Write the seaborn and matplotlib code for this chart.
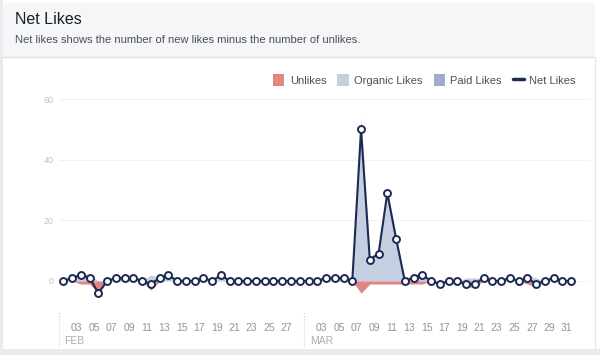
# Net Likes chart (Feb-Mar daily)
import numpy as np
import pandas as pd
import matplotlib
matplotlib.use('Agg')
import matplotlib.pyplot as plt
import seaborn as sns
from matplotlib.patches import Patch, Rectangle
from matplotlib.lines import Line2D

# ---- data ----
days = pd.date_range('2019-02-01', '2019-03-31', freq='D') + pd.Timedelta(hours=12)

net_likes = [0, 1, 2, 1, -4, 0, 1, 1, 1, 0, -1, 1, 2, 0, 0, 0, 1, 0, 2, 0, 0, 0, 0, 0, 0, 0, 0, 0,
             0, 0, 1, 1, 1, 0, 50, 7, 9, 29, 14, 0, 1, 2, 0, -1, 0, 0, -1, -1, 1, 0, 0, 1, 0, 1, -1, 0, 1, 0, 0]
organic_likes = [0, 1, 3, 2, 0, 0, 1, 1, 1, 0, 2, 1, 2, 0, 0, 0, 1, 0, 2, 0, 0, 0, 0, 0, 0, 0, 0, 0,
                 0, 0, 1, 1, 1, 0, 54, 8, 10, 30, 15, 1, 2, 3, 0, 0, 0, 0, 1, 1, 1, 0, 0, 1, 0, 2, 1, 0, 1, 0, 0]
paid_likes = [0, 0, 0, 0, 0, 0, 0, 0, 0, 0, 0, 0, 0, 0, 0, 0, 0, 0, 0, 0, 0, 0, 0, 0, 0, 0, 0, 0,
              0, 0, 0, 0, 0, 0, 0, 0, 0, 0, 0, 0, 0, 0, 0, 0, 0, 0, 0, 0, 0, 0, 0, 0, 0, 0, 0, 0, 0, 0, 0]
unlikes = [0, 0, 1, 1, 4, 0, 0, 0, 0, 0, 3, 0, 0, 0, 0, 0, 0, 0, 0, 0, 0, 0, 0, 0, 0, 0, 0, 0,
           0, 0, 0, 0, 0, 0, 4, 1, 1, 1, 1, 1, 1, 1, 0, 1, 0, 0, 2, 2, 0, 0, 0, 0, 0, 1, 2, 0, 0, 0, 0]

y_ticks = [0, 20, 40, 60]
month_starts = ['2019-02-01', '2019-03-01']
month_names = ['FEB', 'MAR']

df = pd.DataFrame({'Ngay': days, 'Net': net_likes, 'Organic': organic_likes,
                   'Paid': paid_likes, 'Unlikes': unlikes})

# ---- colours ----
c_unlike = '#e08585'
c_organic = '#c6cee1'
c_paid = '#9eabca'
c_net = '#1d2b52'

sns.set_style('white')
plt.rcParams['font.family'] = ['Liberation Sans', 'DejaVu Sans']

fig = plt.figure(figsize=(6, 3.55), dpi=100)
W, H = 600, 355

# khung trang (header xam, vien)
fig.patches.append(Rectangle((3 / W, 1 - 57 / H), 592 / W, 54 / H, transform=fig.transFigure,
                             facecolor='#f5f6f7', edgecolor='none', zorder=0))
fig.lines.append(Line2D([3 / W, 595 / W], [1 - 57 / H] * 2, transform=fig.transFigure,
                        color='#dddfe2', lw=1))
fig.patches.append(Rectangle((0, 0), 3 / W, 1, transform=fig.transFigure,
                             facecolor='#e9ebee', edgecolor='none'))
fig.patches.append(Rectangle((0, 0), 1, 6 / H, transform=fig.transFigure,
                             facecolor='#e9ebee', edgecolor='none'))
fig.lines.append(Line2D([595 / W] * 2, [6 / H, 1 - 57 / H], transform=fig.transFigure,
                        color='#e6e8eb', lw=1))

fig.text(15 / W, 1 - 19 / H, 'Net Likes', fontsize=11.5, color='#1d2129', va='center')
fig.text(15 / W, 1 - 40 / H, 'Net likes shows the number of new likes minus the number of unlikes.',
         fontsize=8, color='#4b4f56', va='center')

# ---- axes ----
ax = fig.add_axes([59 / W, 1 - 313 / H, (590 - 59) / W, (313 - 95) / H])
px_per_unit = (281 - 99) / 60
ax.set_ylim(-(313 - 281) / px_per_unit, (281 - 95) / px_per_unit)
x0 = pd.Timestamp('2019-02-01')
ax.set_xlim(x0, x0 + pd.Timedelta(days=(590 - 59.3) / 8.75))

org_top = df['Organic']
paid_top = df['Organic'] + df['Paid']
ax.fill_between(df['Ngay'], 0, org_top, color=c_organic, lw=0, zorder=1)
ax.fill_between(df['Ngay'], org_top, paid_top, color=c_paid, lw=0, zorder=1)
ax.fill_between(df['Ngay'], 0, -df['Unlikes'], color=c_unlike, lw=0, zorder=1)

sns.lineplot(data=df, x='Ngay', y='Net', ax=ax, color=c_net, lw=1.5, marker='o',
             markersize=5, markerfacecolor='white', markeredgecolor=c_net,
             markeredgewidth=1.4, zorder=3)

for s in ax.spines.values():
    s.set_visible(False)
ax.set_xlabel('')
ax.set_ylabel('')
ax.set_yticks(y_ticks)
ax.set_yticklabels([str(v) for v in y_ticks])
ax.grid(axis='y', color='#f1f2f4', lw=0.8, zorder=0)
ax.grid(axis='x', visible=False)
ax.tick_params(axis='y', length=0, pad=4, labelsize=6.5, labelcolor='#bec3c9')

# x ticks moi 2 ngay, bo dau thang
tick_days = [x0 + pd.Timedelta(days=2 * k) for k in range(31)]
tick_days = [d for d in tick_days if d.day != 1]
labels = [d.strftime('%d') if d.month in (2, 3) else '' for d in tick_days]
ax.set_xticks(tick_days)
ax.set_xticklabels(labels)
ax.tick_params(axis='x', direction='out', length=5, width=0.8, color='#dddfe2',
               pad=2, labelsize=7.5, labelcolor='#90949c')

for m, name in zip(month_starts, month_names):
    d = pd.Timestamp(m)
    ax.plot([d, d], [0, -34 / 218], transform=ax.get_xaxis_transform(), ls=(0, (1, 1.5)),
            color='#ccd0d5', lw=0.8, clip_on=False)
    ax.annotate(name, xy=(d, 0), xycoords=('data', 'axes fraction'),
                xytext=(4, -28 * 0.72), textcoords='offset points', fontsize=7.5,
                color='#a8adb5', va='center', ha='left')

handles = [Patch(facecolor=c_unlike, edgecolor='none'),
           Patch(facecolor=c_organic, edgecolor='none'),
           Patch(facecolor=c_paid, edgecolor='none'),
           Line2D([0], [0], color=c_net, lw=2.5)]
fig.legend(handles, ['Unlikes', 'Organic Likes', 'Paid Likes', 'Net Likes'],
           loc='center right', bbox_to_anchor=(586 / W, 1 - 80 / H), ncol=4, frameon=False,
           fontsize=8, handlelength=1.0, handleheight=1.2, handletextpad=0.5,
           columnspacing=1.0, labelcolor='#4b4f56')

fig.savefig('out.png', dpi=100)
